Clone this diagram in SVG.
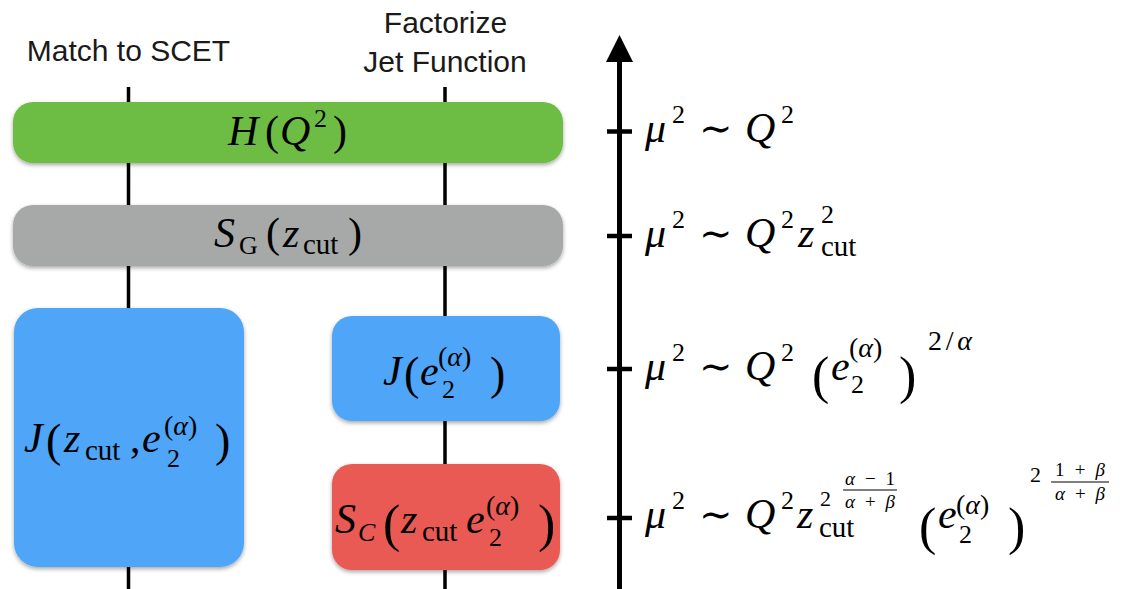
<svg xmlns="http://www.w3.org/2000/svg" width="1132" height="589" viewBox="0 0 1132 589">
<defs>
<filter id="sh" x="-10%" y="-10%" width="120%" height="130%">
<feDropShadow dx="0" dy="2" stdDeviation="2" flood-color="#000" flood-opacity="0.35"/>
</filter>
</defs>
<style>
.lbl{font-family:"Liberation Sans",Arial,sans-serif;font-size:30px;fill:#1a1a1a;text-anchor:middle}
.m{font-family:"Liberation Serif","Times New Roman",serif;font-size:42px;fill:#000}
.i{font-style:italic}
.s{font-size:26px}
.c{font-size:29px}
.a{font-size:28px}
.f{font-size:19px}
.p{font-size:52px}
.t{font-family:"DejaVu Serif",serif;font-size:40px}
.v{stroke:#000;stroke-width:3.5;fill:none}
.tick{stroke:#000;stroke-width:4.5}
</style>
<rect width="1132" height="589" fill="#fff"/>
<g id="headers">
<text class="lbl" x="128.5" y="61">Match to SCET</text>
<text class="lbl" x="445.5" y="33">Factorize</text>
<text class="lbl" x="445" y="72">Jet Function</text>
</g>
<g id="connectors">
<line class="v" x1="128.5" y1="87" x2="128.5" y2="589"/>
<line class="v" x1="445" y1="87" x2="445" y2="589"/>
<line x1="619.5" y1="589" x2="619.5" y2="58" stroke="#000" stroke-width="5"/>
<polygon points="619.5,35 606,62 633,62" fill="#000"/>
<line class="tick" x1="607" y1="131.5" x2="632" y2="131.5"/>
<line class="tick" x1="607" y1="236" x2="632" y2="236"/>
<line class="tick" x1="607" y1="369" x2="632" y2="369"/>
<line class="tick" x1="607" y1="518" x2="632" y2="518"/>
</g>
<g id="node-H">
<rect x="13" y="102" width="550" height="61" rx="20" fill="#6dbd45" filter="url(#sh)"/>
<text class="m"><tspan class="i" x="228" y="145">H</tspan><tspan x="265" y="145">(</tspan><tspan class="i" x="280" y="145">Q</tspan><tspan class="s" x="314" y="127">2</tspan><tspan x="333" y="145">)</tspan></text>
</g>
<g id="node-SG">
<rect x="13" y="205" width="550" height="61" rx="20" fill="#a6a9a8" filter="url(#sh)"/>
<text class="m"><tspan class="i" x="214" y="247">S</tspan><tspan class="s" x="239" y="254">G</tspan><tspan x="266" y="247">(</tspan><tspan class="i" x="283" y="247">z</tspan><tspan class="c" x="303" y="254">cut</tspan><tspan x="348" y="247">)</tspan></text>
</g>
<g id="node-Jfull">
<rect x="14" y="308" width="230" height="259" rx="24" fill="#4fa5f7" filter="url(#sh)"/>
<text class="m"><tspan class="i" x="24" y="452">J</tspan><tspan style="font-size:46px" x="46" y="456">(</tspan><tspan class="i" x="64" y="452">z</tspan><tspan class="c" x="85" y="460">cut</tspan><tspan x="130" y="452">,</tspan><tspan class="i" x="142" y="452">e</tspan><tspan class="a" x="164" y="435">(<tspan class="i">α</tspan>)</tspan><tspan class="s" x="167" y="467">2</tspan><tspan style="font-size:46px" x="215" y="456">)</tspan></text>
</g>
<g id="node-J">
<rect x="332" y="316" width="228" height="105" rx="20" fill="#4fa5f7" filter="url(#sh)"/>
<text class="m"><tspan class="i" x="383" y="385">J</tspan><tspan style="font-size:46px" x="404" y="389">(</tspan><tspan class="i" x="420" y="385">e</tspan><tspan class="a" x="438" y="366">(<tspan class="i">α</tspan>)</tspan><tspan class="s" x="442" y="398">2</tspan><tspan style="font-size:46px" x="490" y="389">)</tspan></text>
</g>
<g id="node-SC">
<rect x="332" y="464" width="228" height="106" rx="20" fill="#e85a53" filter="url(#sh)"/>
<text class="m"><tspan class="i" x="335" y="533">S</tspan><tspan class="s i" x="358" y="541">C</tspan><tspan style="font-size:52px" x="383" y="541">(</tspan><tspan class="i" x="401" y="533">z</tspan><tspan class="c" x="422" y="541">cut</tspan><tspan class="i" x="466" y="533">e</tspan><tspan class="a" x="486" y="515">(<tspan class="i">α</tspan>)</tspan><tspan class="s" x="489" y="546">2</tspan><tspan style="font-size:52px" x="538" y="541">)</tspan></text>
</g>
<g id="scale-labels">
<text class="m"><tspan class="i" x="645" y="142">μ</tspan><tspan class="s" x="672" y="123">2</tspan><tspan class="t" x="699" y="142">∼</tspan><tspan class="i" x="745" y="142">Q</tspan><tspan class="s" x="781" y="123">2</tspan></text>
<text class="m"><tspan class="i" x="645" y="247">μ</tspan><tspan class="s" x="672" y="228">2</tspan><tspan class="t" x="699" y="247">∼</tspan><tspan class="i" x="745" y="247">Q</tspan><tspan class="s" x="781" y="228">2</tspan><tspan class="i" x="798" y="247">z</tspan><tspan class="s" x="821" y="223">2</tspan><tspan class="c" x="821" y="256">cut</tspan></text>
<text class="m"><tspan class="i" x="645" y="380">μ</tspan><tspan class="s" x="672" y="361">2</tspan><tspan class="t" x="699" y="380">∼</tspan><tspan class="i" x="745" y="380">Q</tspan><tspan class="s" x="781" y="361">2</tspan><tspan class="p" x="812" y="393">(</tspan><tspan class="i" x="831" y="380">e</tspan><tspan class="a" x="849" y="357">(<tspan class="i">α</tspan>)</tspan><tspan class="s" x="851" y="393">2</tspan><tspan class="p" x="899" y="393">)</tspan><tspan class="a" x="928" y="350" textLength="44" lengthAdjust="spacing">2/<tspan class="i">α</tspan></tspan></text>
<text class="m"><tspan class="i" x="645" y="528">μ</tspan><tspan class="s" x="672" y="509">2</tspan><tspan class="t" x="699" y="528">∼</tspan><tspan class="i" x="745" y="528">Q</tspan><tspan class="s" x="781" y="509">2</tspan><tspan class="i" x="797" y="528">z</tspan><tspan class="c" x="819" y="537">cut</tspan><tspan style="font-size:22px" x="820" y="506">2</tspan><tspan class="p" x="919" y="544">(</tspan><tspan class="i" x="938" y="528">e</tspan><tspan class="a" x="956" y="514">(<tspan class="i">α</tspan>)</tspan><tspan class="s" x="959" y="543">2</tspan><tspan class="p" x="1008" y="544">)</tspan><tspan style="font-size:22px" x="1030" y="482">2</tspan></text>
<text class="m f"><tspan x="845" y="485" textLength="50" lengthAdjust="spacing"><tspan class="i">α</tspan>−1</tspan><tspan x="845" y="508" textLength="50" lengthAdjust="spacing"><tspan class="i">α</tspan>+<tspan class="i">β</tspan></tspan></text>
<line x1="843" y1="490" x2="897" y2="490" stroke="#000" stroke-width="1.2"/>
<text class="m f"><tspan x="1055" y="476" textLength="50" lengthAdjust="spacing">1+<tspan class="i">β</tspan></tspan><tspan x="1055" y="500" textLength="50" lengthAdjust="spacing"><tspan class="i">α</tspan>+<tspan class="i">β</tspan></tspan></text>
<line x1="1051" y1="482" x2="1109" y2="482" stroke="#000" stroke-width="1.2"/>
</g>
</svg>
